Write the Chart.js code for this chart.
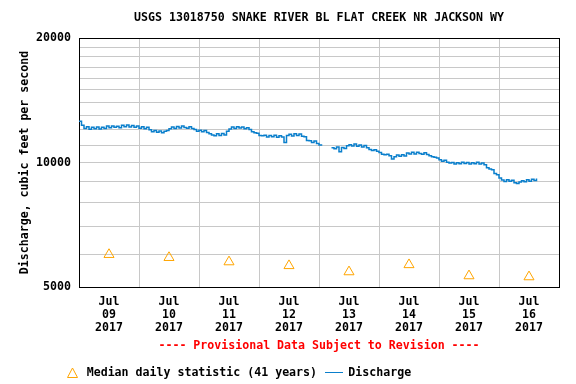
<!DOCTYPE html>
<html lang="en">

<head>
    <meta charset="UTF-8">
    <title>USGS 13018750 Snake River bl Flat Creek</title>
    <script src="https://cdn.jsdelivr.net/npm/chart.js"></script>
    <style>
        body {
            margin: 0;
            background: #ffffff;
        }

        .wrap {
            position: relative;
            width: 576px;
            height: 384px;
        }

        canvas {
            display: block;
        }

        #legend {
            position: absolute;
            left: 67px;
            top: 366px;
            display: flex;
            align-items: center;
            font: bold 11.6px 'DejaVu Sans Mono', monospace;
            line-height: 13px;
            color: #000;
            white-space: nowrap;
        }

        #legend .mark-line {
            display: inline-block;
            width: 18px;
            height: 1px;
            background: #0a7fcc;
        }
    </style>
</head>

<body>
    <div class="wrap">
        <canvas id="flowChart" width="576" height="384"></canvas>
        <div id="legend"></div>
    </div>

    <script>
        const chartTitle = 'USGS 13018750 SNAKE RIVER BL FLAT CREEK NR JACKSON WY';
        const yAxisTitle = 'Discharge, cubic feet per second';
        const provisionalNote = '---- Provisional Data Subject to Revision ----';
        const medianLabel = 'Median daily statistic (41 years)';
        const dischargeLabel = 'Discharge';

        // x axis runs in hours from Jul 09 2017 00:00
        const tickHours = [0, 12, 24, 36, 48, 60, 72, 84, 96, 108, 120, 132, 144, 156, 168, 180, 192];
        const dayLabels = [
            ['Jul', '09', '2017'], ['Jul', '10', '2017'], ['Jul', '11', '2017'], ['Jul', '12', '2017'],
            ['Jul', '13', '2017'], ['Jul', '14', '2017'], ['Jul', '15', '2017'], ['Jul', '16', '2017']
        ];
        const yGridValues = [5000, 6000, 7000, 8000, 9000, 10000, 11000, 12000, 13000, 14000,
            15000, 16000, 17000, 18000, 19000, 20000];
        const yLabelValues = [5000, 10000, 20000];

        // median daily statistic, plotted at noon
        const medianHours = [12, 36, 60, 84, 108, 132, 156, 180];
        const medianCfs = [5990, 5890, 5750, 5630, 5440, 5660, 5320, 5290];

        // hourly discharge from Jul 09 00:00, null = no data
        const dischargeCfs = [
            // Jul 09
            12580, 12310, 12080, 12200, 12040, 12170, 12070, 12190, 12050, 12160, 12090, 12250,
            12140, 12260, 12170, 12230, 12130, 12300, 12200, 12320, 12180, 12280, 12160, 12250,
            // Jul 10
            12100, 12200, 12070, 12160, 12000, 11860, 11950, 11830, 11920, 11800, 11900, 11950,
            12060, 12180, 12090, 12220, 12120, 12250, 12150, 12100, 12210, 12080, 12020, 11900,
            // Jul 11
            11960, 11860, 11950, 11820, 11730, 11660, 11600, 11730, 11630, 11750, 11660, 11900,
            12050, 12180, 12080, 12210, 12110, 12190, 12060, 12140, 12020, 11870, 11800, 11770,
            // Jul 12
            11620, 11600, 11640, 11520, 11620, 11540, 11640, 11510, 11610, 11530, 11180, 11620,
            11700, 11590, 11740, 11630, 11720, 11580, 11540, 11310, 11280, 11180, 11270, 11120,
            // Jul 13
            11030, 10970, null, null, null, 10860, 10800, 10900, 10620, 10870, 10810, 10970,
            11040, 10960, 11080, 10940, 11030, 10900, 11000, 10850, 10750, 10690, 10740, 10650,
            // Jul 14
            10570, 10470, 10440, 10470, 10380, 10200, 10330, 10420, 10360, 10440, 10370, 10550,
            10490, 10580, 10480, 10590, 10510, 10470, 10560, 10450, 10390, 10320, 10300, 10250,
            // Jul 15
            10160, 10070, 10120, 10010, 9970, 10000, 9910, 9980, 9930, 10020, 9940, 10000,
            9910, 9990, 9930, 10010, 9920, 9970, 9880, 9710, 9650, 9600, 9410, 9340,
            // Jul 16
            9170, 9070, 9000, 9090, 9010, 9060, 8930, 8900, 8970, 9040, 8980, 9080,
            9010, 9110, 9050, 9150
        ];

        const monoFont = { family: "'DejaVu Sans Mono', monospace", size: 11.6, weight: 'bold' };
        const gridGray = '#c8c8c8';
        const medianColor = '#ffa500';
        const dischargeColor = '#0a7fcc';

        new Chart(document.getElementById('flowChart'), {
            type: 'line',
            data: {
                datasets: [{
                    label: medianLabel,
                    data: medianHours.map((h, i) => ({ x: h, y: medianCfs[i] })),
                    showLine: false,
                    pointStyle: 'triangle',
                    pointRadius: 5.8,
                    pointBorderWidth: 1,
                    pointBorderColor: medianColor,
                    pointBackgroundColor: 'rgba(0,0,0,0)',
                    borderColor: medianColor
                }, {
                    label: dischargeLabel,
                    data: dischargeCfs.map((v, i) => ({ x: i, y: v })),
                    borderColor: dischargeColor,
                    borderWidth: 1.5,
                    pointRadius: 0,
                    stepped: true,
                    spanGaps: false,
                    fill: false
                }]
            },
            options: {
                responsive: false,
                animation: false,
                events: [],
                layout: {
                    padding: { left: 0, right: 17, top: 0, bottom: 25.3 }
                },
                scales: {
                    x: {
                        type: 'linear',
                        min: 0,
                        max: 192,
                        afterBuildTicks: scale => {
                            scale.ticks = tickHours.map(v => ({ value: v }));
                        },
                        afterFit: scale => {
                            scale.height = 47;
                        },
                        grid: {
                            drawTicks: false,
                            lineWidth: 1,
                            color: ctx => {
                                const v = ctx.tick.value;
                                if (v % 24 !== 0) return 'rgba(0,0,0,0)';
                                return (v === 0 || v === 192) ? '#000' : gridGray;
                            }
                        },
                        border: { color: '#000', width: 1 },
                        ticks: {
                            autoSkip: false,
                            maxRotation: 0,
                            minRotation: 0,
                            padding: 8,
                            color: '#000',
                            font: { ...monoFont, lineHeight: '13px' },
                            callback: v => (v % 24 === 12 ? dayLabels[(v - 12) / 24] : '')
                        }
                    },
                    y: {
                        type: 'logarithmic',
                        min: 5000,
                        max: 20000,
                        afterBuildTicks: scale => {
                            scale.ticks = yGridValues.map(v => ({ value: v }));
                        },
                        afterFit: scale => {
                            scale.width = 79;
                        },
                        grid: {
                            drawTicks: false,
                            lineWidth: 1,
                            color: ctx => {
                                const v = ctx.tick.value;
                                return (v === 5000 || v === 20000) ? '#000' : gridGray;
                            }
                        },
                        border: { color: '#000', width: 1 },
                        ticks: {
                            autoSkip: false,
                            padding: 8,
                            color: '#000',
                            font: monoFont,
                            callback: v => (yLabelValues.includes(v) ? String(v) : '')
                        },
                        title: {
                            display: true,
                            text: yAxisTitle,
                            color: '#000',
                            font: monoFont,
                            padding: { top: 18, bottom: 0 }
                        }
                    }
                },
                plugins: {
                    title: {
                        display: true,
                        text: chartTitle,
                        fullSize: false,
                        color: '#000',
                        font: monoFont,
                        padding: { top: 11, bottom: 13.08 }
                    },
                    subtitle: {
                        display: true,
                        text: provisionalNote,
                        position: 'bottom',
                        fullSize: false,
                        weight: 500,
                        color: '#ff0000',
                        font: monoFont,
                        padding: { top: 5.5, bottom: 5.28 }
                    },
                    legend: { display: false },
                    tooltip: { enabled: false }
                }
            }
        });

        // legend below the provisional note
        const legend = document.getElementById('legend');

        const tri = document.createElement('canvas');
        tri.width = 11;
        tri.height = 11;
        const tctx = tri.getContext('2d');
        tctx.strokeStyle = medianColor;
        tctx.lineWidth = 1;
        tctx.beginPath();
        tctx.moveTo(5.5, 1);
        tctx.lineTo(10.5, 10.5);
        tctx.lineTo(0.5, 10.5);
        tctx.closePath();
        tctx.stroke();
        tri.style.marginRight = '8.7px';
        legend.appendChild(tri);

        const medianText = document.createElement('span');
        medianText.textContent = medianLabel;
        medianText.style.marginRight = '8px';
        legend.appendChild(medianText);

        const lineMark = document.createElement('span');
        lineMark.className = 'mark-line';
        lineMark.style.marginRight = '5.3px';
        legend.appendChild(lineMark);

        const dischargeText = document.createElement('span');
        dischargeText.textContent = dischargeLabel;
        legend.appendChild(dischargeText);
    </script>
</body>

</html>
